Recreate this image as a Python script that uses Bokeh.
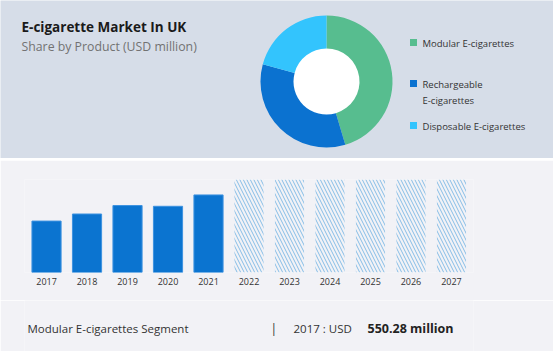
import math
from bokeh.plotting import figure
from bokeh.models import ColumnDataSource, FactorRange, Range1d, FixedTicker
from bokeh.layouts import column
from bokeh.embed import file_html
from bokeh.resources import INLINE
from bokeh.core.properties import value

# ---------------- data ----------------
title_text = "E-cigarette Market In UK"
subtitle_text = "Share by Product (USD million)"

segments = ["Modular E-cigarettes", "Rechargeable\nE-cigarettes", "Disposable E-cigarettes"]
shares = [45.4, 33.8, 20.8]
seg_colors = ["#57bd8f", "#0b72d0", "#33c4fd"]

years = ["2017", "2018", "2019", "2020", "2021", "2022", "2023", "2024", "2025", "2026", "2027"]
hist_years = ["2017", "2018", "2019", "2020", "2021"]
hist_values = [55.3, 62.9, 72.0, 71.2, 83.4]
fc_years = ["2022", "2023", "2024", "2025", "2026", "2027"]
fc_values = [100, 100, 100, 100, 100, 100]
grid_ticks = [0, 10, 20, 30, 40, 50, 60, 70, 80, 90, 100]

footer_segment = "Modular E-cigarettes Segment"
footer_year = "2017"
footer_value = "550.28 million"

# ---------------- styles ----------------
TOP_BG = "#d6dde8"
BOT_BG = "#f2f2f6"
FONT = value("Open Sans")
W = 553
LEFT, RIGHT = 24, 80

# ---------------- top panel ----------------
pa = figure(width=W, height=158, x_range=Range1d(0, W), y_range=Range1d(0, 158),
            x_axis_type=None, y_axis_type=None, output_backend="svg",
            toolbar_location=None, min_border=0)
pa.grid.visible = False
pa.outline_line_color = None
pa.background_fill_color = TOP_BG
pa.border_fill_color = TOP_BG

pa.text(x=[21], y=[132], text=[title_text], text_font=FONT, text_font_size="13.5px",
        text_font_style="bold", text_color="#1a1a1a", text_baseline="middle")
pa.text(x=[21], y=[112], text=[subtitle_text], text_font=FONT, text_font_size="12.3px",
        text_color="#727272", text_baseline="middle")

total = sum(shares)
starts, ends = [], []
cum = 0.0
for s in shares:
    starts.append(math.pi / 2 - cum / total * 2 * math.pi)
    cum += s
    ends.append(math.pi / 2 - cum / total * 2 * math.pi)
donut = ColumnDataSource(dict(start=starts, end=ends, color=seg_colors))
pa.circle(x=[326], y=[77], radius=34, fill_color="#ffffff", line_color=None)
pa.annular_wedge(x=326, y=77, inner_radius=33, outer_radius=66,
                 start_angle="start", end_angle="end", direction="clock",
                 fill_color="color", line_color=None, source=donut)

leg_sq_y = [116, 75, 33]
leg_txt_y = [122, 81, 39]
pa.scatter(x=[413] * 3, y=leg_sq_y, marker="square", size=7,
           fill_color=seg_colors, line_color=None)
pa.text(x=[422] * 3, y=leg_txt_y, text=segments, text_font=FONT, text_font_size="9.5px",
        text_color="#333333", text_baseline="top", text_line_height=1.3)

# ---------------- bar panel ----------------
pb = figure(width=W, height=140, x_range=FactorRange(*years, range_padding=0.008),
            y_range=Range1d(0, 100), y_axis_type=None, output_backend="svg",
            toolbar_location=None, min_border_left=LEFT, min_border_right=RIGHT,
            min_border_top=19, min_border_bottom=28)
pb.background_fill_color = BOT_BG
pb.border_fill_color = BOT_BG
pb.outline_line_color = None
pb.xgrid.grid_line_color = None
pb.ygrid.ticker = FixedTicker(ticks=grid_ticks)
pb.ygrid.grid_line_color = "#dcdde2"
pb.xaxis.axis_line_color = None
pb.xaxis.major_tick_line_color = None
pb.xaxis.major_tick_out = 0
pb.xaxis.major_tick_in = 0
pb.xaxis.major_label_standoff = 5
pb.xaxis.major_label_text_font = "Open Sans"
pb.xaxis.major_label_text_font_size = "9px"
pb.xaxis.major_label_text_color = "#333333"

pb.vbar(x=hist_years, top=hist_values, width=0.72, fill_color="#0b74d0",
        line_color="#3d92e0", line_width=1)
pb.vbar(x=fc_years, top=fc_values, width=0.72, fill_color=None, line_color=None,
        hatch_pattern="\\", hatch_color="#86bde6", hatch_scale=7, hatch_weight=1)

# ---------------- footer ----------------
# frame is aligned with the bar panel's frame, so map data x to page pixels
pc = figure(width=W, height=51, x_range=Range1d(LEFT, W - RIGHT), y_range=Range1d(0, 51),
            x_axis_type=None, y_axis_type=None, output_backend="svg",
            toolbar_location=None, min_border_left=LEFT, min_border_right=RIGHT,
            min_border_top=0, min_border_bottom=0)
pc.grid.visible = False
pc.outline_line_color = None
pc.background_fill_color = BOT_BG
pc.border_fill_color = BOT_BG
pc.text(x=[27], y=[23], text=[footer_segment], text_font=FONT, text_font_size="11.5px",
        text_color="#333333", text_baseline="middle")
pc.text(x=[270], y=[23], text=["|"], text_font=FONT, text_font_size="12px",
        text_color="#333333", text_baseline="middle")
pc.text(x=[293], y=[23], text=[footer_year + " : USD"], text_font=FONT,
        text_font_size="11.5px", text_color="#333333", text_baseline="middle")
pc.text(x=[367], y=[23], text=[footer_value], text_font=FONT, text_font_size="12.5px",
        text_font_style="bold", text_color="#222222", text_baseline="middle")

layout = column(pa, column(pb, pc, spacing=0), spacing=2)
open("out.html", "w").write(file_html(layout, INLINE))
